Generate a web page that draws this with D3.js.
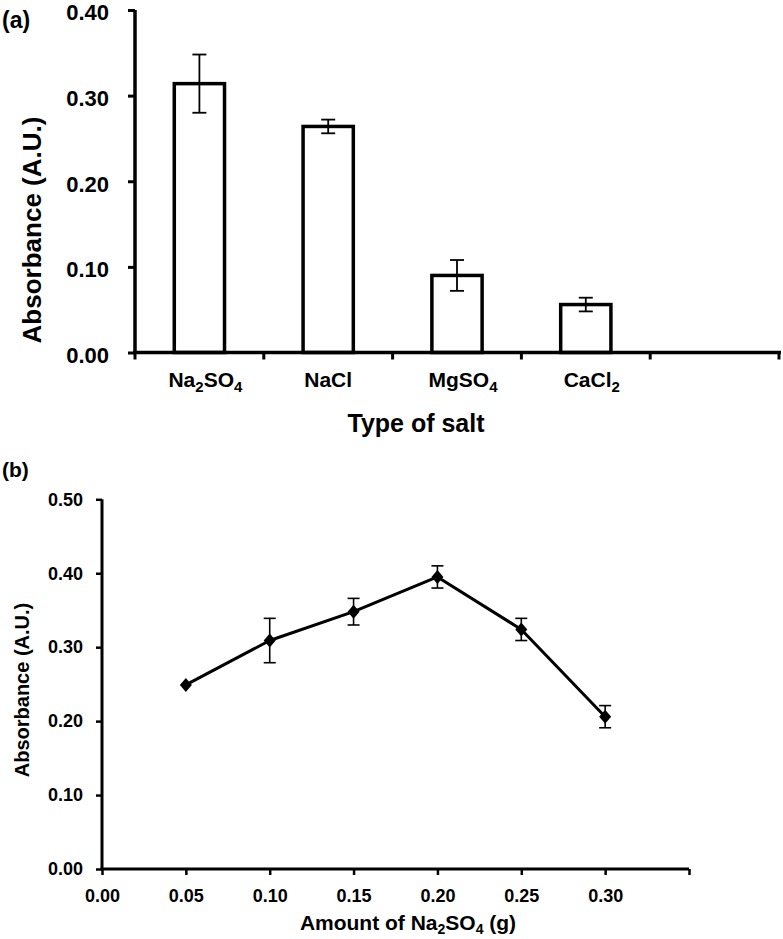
<!DOCTYPE html>
<html>
<head>
<meta charset="utf-8">
<script src="https://cdn.jsdelivr.net/npm/d3@7/dist/d3.min.js"></script>
<style>
  html, body { margin: 0; padding: 0; background: #fff; }
  svg { display: block; font-family: "Liberation Sans", Arial, sans-serif; font-weight: bold; }
</style>
</head>
<body>
<svg id="chart" width="783" height="939"></svg>
<script>
// ---- Data: panel (a) ----
const salts = ["Na2SO4", "NaCl", "MgSO4", "CaCl2"];
const saltAbs = [0.314, 0.264, 0.090, 0.056];
const saltErr = [0.034, 0.008, 0.018, 0.008];
const aYTicks = [0.0, 0.1, 0.2, 0.3, 0.4];

// ---- Data: panel (b) ----
const amounts = [0.05, 0.10, 0.15, 0.20, 0.25, 0.30];
const amountAbs = [0.249, 0.309, 0.348, 0.395, 0.324, 0.206];
const amountErr = [0.002, 0.030, 0.018, 0.015, 0.015, 0.015];
const bXTicks = [0.00, 0.05, 0.10, 0.15, 0.20, 0.25, 0.30, 0.35];
const bYTicks = [0.0, 0.1, 0.2, 0.3, 0.4, 0.5];

const svg = d3.select("#chart");
const fmt = d3.format(".2f");

// helper: write chemical formula with subscripted digits
function formula(textSel, str, subSize, shift) {
  const parts = str.match(/[0-9]+|[^0-9]+/g) || [];
  let cur = 0;
  parts.forEach(p => {
    const isSub = /^[0-9]+$/.test(p);
    const target = isSub ? shift : 0;
    const t = textSel.append("tspan").attr("dy", target - cur).text(p);
    if (isSub) t.attr("font-size", subSize);
    cur = target;
  });
}

// =================== Panel (a) ===================
const aLeft = 135, aRight = 779, aTop = 10, aBottom = 352.5;
const ax = d3.scaleBand().domain(salts.concat(["_"])).range([aLeft, aRight]).padding(0);
const ay = d3.scaleLinear().domain([0, 0.4]).range([aBottom, aTop]);
const ga = svg.append("g");

// y axis
const yAxisA = d3.axisLeft(ay).tickValues(aYTicks).tickFormat(fmt).tickSize(7).tickPadding(19);
const gya = ga.append("g").attr("transform", `translate(${aLeft},0)`).call(yAxisA);
gya.select(".domain").attr("stroke", "#000").attr("stroke-width", 3.5).attr("d", `M0,${aTop}V${aBottom}`);
gya.selectAll(".tick line").attr("stroke", "#000").attr("stroke-width", 3);
gya.selectAll(".tick text").attr("font-size", 22).attr("font-weight", "bold").attr("dy", "0.45em")
  .attr("font-family", "Liberation Sans, Arial, sans-serif").attr("fill", "#000");

// bars
const bw = ax.bandwidth() * 0.39;
ga.selectAll("rect.bar").data(salts).join("rect")
  .attr("class", "bar")
  .attr("x", (d) => ax(d) + ax.bandwidth() / 2 - bw / 2)
  .attr("width", bw)
  .attr("y", (d, i) => ay(saltAbs[i]))
  .attr("height", (d, i) => ay(0) - ay(saltAbs[i]))
  .attr("fill", "#fff").attr("stroke", "#000").attr("stroke-width", 3.5);

// error bars (a)
const ea = ga.selectAll("g.err").data(salts).join("g").attr("class", "err")
  .attr("transform", d => `translate(${ax(d) + ax.bandwidth() / 2},0)`);
ea.append("line").attr("x1", 0).attr("x2", 0)
  .attr("y1", (d, i) => ay(saltAbs[i] + saltErr[i])).attr("y2", (d, i) => ay(saltAbs[i] - saltErr[i]))
  .attr("stroke", "#000").attr("stroke-width", 1.8);
ea.append("line").attr("x1", -7).attr("x2", 7)
  .attr("y1", (d, i) => ay(saltAbs[i] + saltErr[i])).attr("y2", (d, i) => ay(saltAbs[i] + saltErr[i]))
  .attr("stroke", "#000").attr("stroke-width", 1.8);
ea.append("line").attr("x1", -7).attr("x2", 7)
  .attr("y1", (d, i) => ay(saltAbs[i] - saltErr[i])).attr("y2", (d, i) => ay(saltAbs[i] - saltErr[i]))
  .attr("stroke", "#000").attr("stroke-width", 1.8);

// x axis (a)
ga.append("line").attr("x1", aLeft - 2).attr("x2", aRight + 2).attr("y1", aBottom).attr("y2", aBottom)
  .attr("stroke", "#000").attr("stroke-width", 3.5);
const boundaries = ax.domain().map(d => ax(d)).concat([aRight]);
ga.selectAll("line.xt").data(boundaries).join("line").attr("class", "xt")
  .attr("x1", d => d).attr("x2", d => d).attr("y1", aBottom).attr("y2", aBottom + 7)
  .attr("stroke", "#000").attr("stroke-width", 3);
ga.selectAll("text.cat").data(salts).join("text").attr("class", "cat")
  .attr("x", d => ax(d) + ax.bandwidth() / 2 + (/[0-9]/.test(d) ? 6 : 0))
  .attr("y", 387).attr("text-anchor", "middle").attr("font-size", 21)
  .each(function (d) { formula(d3.select(this), d, 15, 5); });

// axis titles (a)
ga.append("text").attr("x", 416).attr("y", 432).attr("text-anchor", "middle")
  .attr("font-size", 25).text("Type of salt");
ga.append("text").attr("transform", "translate(41,230) rotate(-90)").attr("text-anchor", "middle")
  .attr("font-size", 26).text("Absorbance (A.U.)");
ga.append("text").attr("x", 2).attr("y", 28).attr("font-size", 23).text("(a)");

// =================== Panel (b) ===================
const bLeft = 102, bRight = 689, bTop = 499.3, bBottom = 869;
const bx = d3.scaleLinear().domain([0, 0.35]).range([bLeft, bRight]);
const by = d3.scaleLinear().domain([0, 0.5]).range([bBottom, bTop]);
const gb = svg.append("g");

const yAxisB = d3.axisLeft(by).tickValues(bYTicks).tickFormat(fmt).tickSize(6).tickPadding(13);
const gyb = gb.append("g").attr("transform", `translate(${bLeft},0)`).call(yAxisB);
gyb.select(".domain").attr("stroke", "#000").attr("stroke-width", 3).attr("d", `M0,${bTop}V${bBottom}`);
gyb.selectAll(".tick line").attr("stroke", "#000").attr("stroke-width", 2.5);
gyb.selectAll(".tick text").attr("font-size", 18).attr("font-weight", "bold")
  .attr("font-family", "Liberation Sans, Arial, sans-serif").attr("fill", "#000");

const xAxisB = d3.axisBottom(bx).tickValues(bXTicks).tickFormat(d => d === 0.35 ? "" : fmt(d)).tickSize(6).tickPadding(14);
const gxb = gb.append("g").attr("transform", `translate(0,${bBottom})`).call(xAxisB);
gxb.select(".domain").attr("stroke", "#000").attr("stroke-width", 3).attr("d", `M${bLeft - 1.5},0H${bRight}`);
gxb.selectAll(".tick line").attr("stroke", "#000").attr("stroke-width", 2.5);
gxb.selectAll(".tick text").attr("font-size", 18).attr("font-weight", "bold")
  .attr("font-family", "Liberation Sans, Arial, sans-serif").attr("fill", "#000");
gxb.selectAll(".tick").filter(d => d === 0.35).select("text").remove();

// error bars (b)
const eb = gb.selectAll("g.errb").data(amounts).join("g").attr("class", "errb")
  .attr("transform", d => `translate(${bx(d)},0)`);
eb.filter((d, i) => amountErr[i] > 0.005).each(function (d) {
  const i = amounts.indexOf(d);
  const g = d3.select(this);
  const t = by(amountAbs[i] + amountErr[i]), b = by(amountAbs[i] - amountErr[i]);
  g.append("line").attr("x1", 0).attr("x2", 0).attr("y1", t).attr("y2", b).attr("stroke", "#000").attr("stroke-width", 1.6);
  g.append("line").attr("x1", -6).attr("x2", 6).attr("y1", t).attr("y2", t).attr("stroke", "#000").attr("stroke-width", 1.6);
  g.append("line").attr("x1", -6).attr("x2", 6).attr("y1", b).attr("y2", b).attr("stroke", "#000").attr("stroke-width", 1.6);
});

// line (b)
const line = d3.line().x((d, i) => bx(amounts[i])).y((d, i) => by(amountAbs[i]));
gb.append("path").datum(amounts).attr("d", line).attr("fill", "none")
  .attr("stroke", "#000").attr("stroke-width", 3).attr("stroke-linejoin", "round");

// diamond markers
gb.selectAll("path.mk").data(amounts).join("path").attr("class", "mk")
  .attr("transform", (d, i) => `translate(${bx(d)},${by(amountAbs[i])})`)
  .attr("d", "M0,-7L6,0L0,7L-6,0Z").attr("fill", "#000");

// titles (b)
const tb = gb.append("text").attr("x", 408).attr("y", 930).attr("text-anchor", "middle").attr("font-size", 21);
formula(tb, "Amount of Na2SO4 (g)", 14, 4);
gb.append("text").attr("transform", "translate(29,690) rotate(-90)").attr("text-anchor", "middle")
  .attr("font-size", 20).text("Absorbance (A.U.)");
gb.append("text").attr("x", 2).attr("y", 477).attr("font-size", 21).text("(b)");
</script>
</body>
</html>
